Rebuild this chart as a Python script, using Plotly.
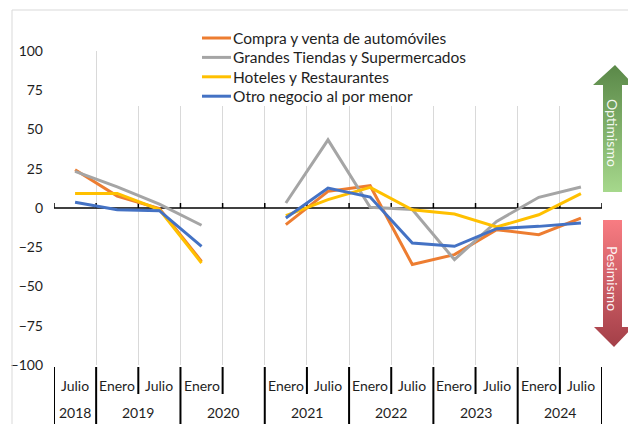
import plotly.graph_objects as go

W, H = 636, 424
OFF = 8  # margen del <body> de la pagina

# categorias del eje (semestres); "" = julio 2020 sin dato
meses = ["Julio", "Enero", "Julio", "Enero", "", "Enero", "Julio",
         "Enero", "Julio", "Enero", "Julio", "Enero", "Julio"]
anios = ["2018", "2019", "2019", "2020", "2020", "2021", "2021",
         "2022", "2022", "2023", "2023", "2024", "2024"]

nombres = [
    "Compra y venta de automóviles",
    "Grandes Tiendas y Supermercados",
    "Hoteles y Restaurantes",
    "Otro negocio al por menor",
]
automoviles = [24.4, 7.6, -0.3, -34.0, None, -10.6, 10.6, 14.2, -36.0, -29.7, -13.8, -17.0, -6.4]
grandes_tiendas = [23.3, 13.4, 2.5, -11.0, None, 3.2, 43.4, 0.5, -1.0, -32.9, -8.5, 6.8, 13.4]
hoteles = [9.3, 9.3, -1.0, -35.0, None, -4.9, 5.3, 13.1, -1.1, -3.8, -12.1, -4.3, 9.1]
otro_negocio = [3.6, -1.1, -1.7, -24.4, None, -6.4, 12.7, 7.0, -22.3, -24.4, -13.2, -11.7, -9.5]

colores = ["#ED7D31", "#A5A5A5", "#FFC000", "#4472C4"]
series = [automoviles, grandes_tiendas, hoteles, otro_negocio]

n = len(meses)
idx = list(range(n))
bordes = [i - 0.5 for i in range(n + 1)]


def fx(px):
    return (px - OFF) / W


def fy(py):
    return 1 - (py - OFF) / H


fig = go.Figure()

for nombre, valores, color in zip(nombres, series, colores):
    fig.add_trace(go.Scatter(
        x=idx, y=valores, name=nombre, mode="lines",
        line=dict(color=color, width=3),
        connectgaps=False, hoverinfo="skip",
    ))

# flechas de optimismo / pesimismo (coordenadas de pixel en x2/y2)
flecha_verde = ([615, 634, 622, 622, 603, 603, 593, 615],
                [65, 85, 85, 192, 192, 85, 85, 65])
flecha_roja = ([603, 622, 622, 633, 614, 594, 603, 603],
               [220, 220, 327, 327, 347, 327, 327, 220])

fig.add_trace(go.Scatter(
    x=flecha_verde[0], y=flecha_verde[1], xaxis="x2", yaxis="y2",
    mode="lines", line=dict(width=0), fill="toself",
    fillgradient=dict(type="vertical", start=192, stop=65,
                      colorscale=[[0, "#A6D88C"], [1, "#5A8848"]]),
    showlegend=False, hoverinfo="skip",
))
fig.add_trace(go.Scatter(
    x=flecha_roja[0], y=flecha_roja[1], xaxis="x2", yaxis="y2",
    mode="lines", line=dict(width=0), fill="toself",
    fillgradient=dict(type="vertical", start=220, stop=347,
                      colorscale=[[0, "#F87C82"], [1, "#A33F48"]]),
    showlegend=False, hoverinfo="skip",
))

shapes = [
    # fondo blanco de la leyenda (tapa la grilla)
    dict(type="rect", xref="x2", yref="y2", x0=112, x1=582, y0=12, y1=106,
         fillcolor="white", line=dict(width=0), layer="below"),
    # borde del area del grafico
    dict(type="rect", xref="x2", yref="y2", x0=12, x1=W + 20, y0=10, y1=H + 20,
         line=dict(color="#D9D9D9", width=1), fillcolor="rgba(0,0,0,0)"),
    # eje en cero
    dict(type="line", xref="x", yref="y", x0=bordes[0], x1=bordes[-1], y0=0, y1=0,
         line=dict(color="black", width=1.5), layer="between"),
]
for b in bordes:
    shapes.append(dict(type="line", xref="x", yref="y", x0=b, x1=b, y0=0, y1=3.2,
                       line=dict(color="black", width=1.5), layer="between"))

# separadores del eje de categorias
cambio_anio = {bordes[0], bordes[-1]}
for i in range(1, n):
    if anios[i] != anios[i - 1]:
        cambio_anio.add(i - 0.5)
for b in bordes:
    fondo = H + 10 if b in cambio_anio else 394
    shapes.append(dict(type="line", xref="x", yref="paper", x0=b, x1=b,
                       y0=fy(367), y1=fy(fondo),
                       line=dict(color="black", width=2)))

annotations = []
for i, m in enumerate(meses):
    if m:
        annotations.append(dict(x=i, y=fy(385), xref="x", yref="paper", text=m,
                                xanchor="center", yanchor="middle",
                                showarrow=False, font=dict(size=14)))
grupos = {}
for i, a in enumerate(anios):
    grupos.setdefault(a, []).append(i)
for a, pos in grupos.items():
    annotations.append(dict(x=sum(pos) / len(pos), y=fy(412), xref="x", yref="paper",
                            text=a, xanchor="center", yanchor="middle",
                            showarrow=False, font=dict(size=14)))

# leyenda dibujada a mano (espaciado como el original)
for k, (nombre, color) in enumerate(zip(nombres, colores)):
    fila = 38 + k * 19.4
    shapes.append(dict(type="line", xref="x2", yref="y2", x0=202, x1=231,
                       y0=fila, y1=fila, line=dict(color=color, width=3)))
    annotations.append(dict(x=231, y=fila, xref="x2", yref="y2", text=nombre,
                            xanchor="left", yanchor="middle", showarrow=False,
                            font=dict(size=15.5)))

annotations.append(dict(x=613, y=133, xref="x2", yref="y2", text="Optimismo",
                        textangle=90, xanchor="center", yanchor="middle",
                        showarrow=False,
                        font=dict(size=14, color="rgba(255,255,255,0.92)")))
annotations.append(dict(x=613, y=278, xref="x2", yref="y2", text="Pesimismo",
                        textangle=90, xanchor="center", yanchor="middle",
                        showarrow=False,
                        font=dict(size=14, color="rgba(255,255,255,0.92)")))

fig.update_layout(
    template="none",
    width=W, height=H,
    margin=dict(l=0, r=0, t=0, b=0),
    paper_bgcolor="white",
    plot_bgcolor="rgba(0,0,0,0)",
    font=dict(family="Lato", size=14, color="#1E1E1E"),
    showlegend=False,
    xaxis=dict(domain=[fx(54), fx(602)], range=[bordes[0], bordes[-1]],
               tickvals=bordes, showticklabels=False, ticks="",
               showgrid=True, gridcolor="#D9D9D9", gridwidth=1,
               zeroline=False, showline=False, fixedrange=True, automargin=False),
    yaxis=dict(domain=[fy(365), fy(51)], range=[-100, 100],
               tickvals=list(range(-100, 101, 25)), ticks="",
               ticklabelstandoff=10, showgrid=False, zeroline=False,
               showline=False, fixedrange=True, automargin=False),
    xaxis2=dict(domain=[0, 1], range=[OFF, OFF + W], visible=False, anchor="y2",
                fixedrange=True, automargin=False),
    yaxis2=dict(domain=[0, 1], range=[OFF + H, OFF], visible=False, anchor="x2",
                fixedrange=True, automargin=False),
    shapes=shapes,
    annotations=annotations,
)

fig.write_html("out.html")
